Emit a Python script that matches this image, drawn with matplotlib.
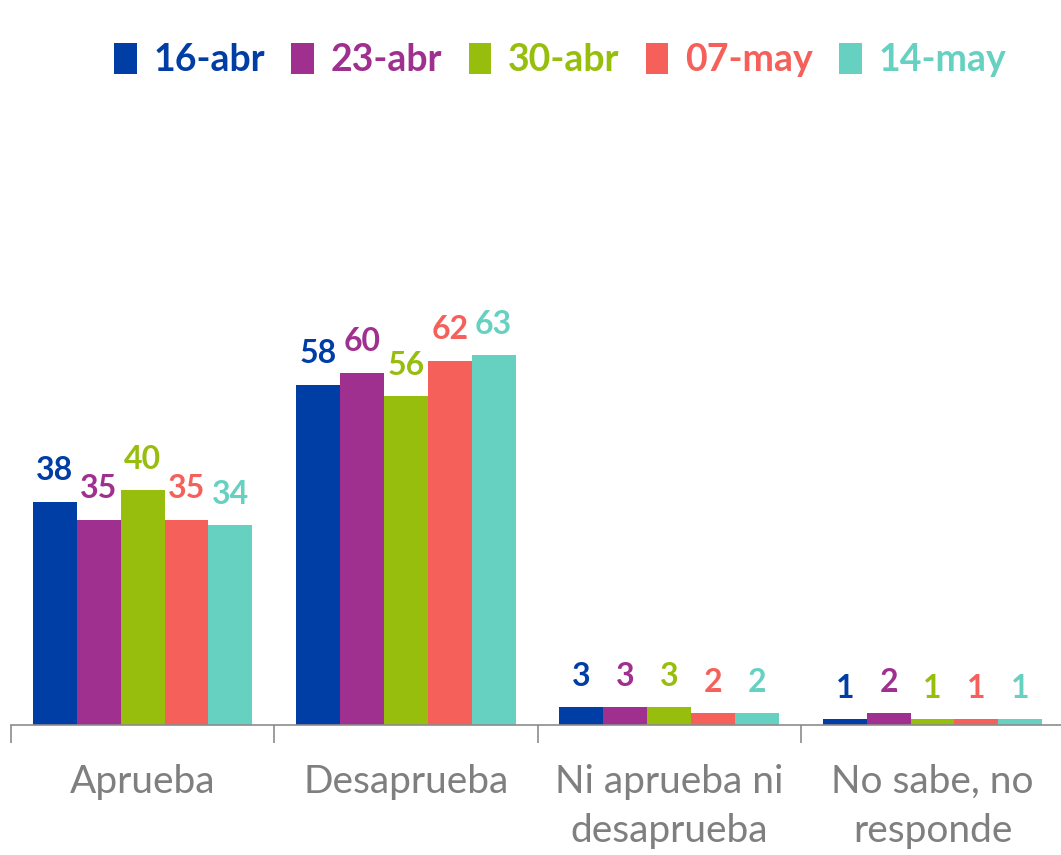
import matplotlib
matplotlib.use('Agg')

import numpy as np
import matplotlib.pyplot as plt
from matplotlib.patches import Patch

# categories and series
categories = ['Aprueba', 'Desaprueba', 'Ni aprueba ni\ndesaprueba', 'No sabe, no\nresponde']
dates = ['16-abr', '23-abr', '30-abr', '07-may', '14-may']
values = {
    '16-abr': [38, 58, 3, 1],
    '23-abr': [35, 60, 3, 2],
    '30-abr': [40, 56, 3, 1],
    '07-may': [35, 62, 2, 1],
    '14-may': [34, 63, 2, 1],
}
colors = ['#003DA5', '#A0308F', '#97BE0D', '#F5605A', '#66D1C1']

plt.rcParams['font.family'] = ['Lato', 'DejaVu Sans']

fig = plt.figure(figsize=(10.61, 8.55), dpi=100)
ax = fig.add_axes([0.0104, 0.152, 0.9925, 0.6866])

x = np.arange(len(categories))
w = 1 / 6
for i, d in enumerate(dates):
    pos = x + (i - 2) * w
    bars = ax.bar(pos, values[d], width=w, color=colors[i], zorder=2)
    for b, v in zip(bars, values[d]):
        ax.annotate(str(v), (b.get_x() + b.get_width() / 2, b.get_height()),
                    xytext=(0, 12), textcoords='offset points',
                    ha='center', va='bottom', fontsize=23, fontweight='bold',
                    color=colors[i])

ax.set_xlim(-0.5, len(categories) - 0.5)
ax.set_ylim(0, 100)

for s in ['top', 'right', 'left']:
    ax.spines[s].set_visible(False)
ax.spines['bottom'].set_color('#8c8c8c')
ax.spines['bottom'].set_linewidth(1.2)
ax.set_yticks([])

# ticks between groups, labels at centres
ax.set_xticks(np.arange(-0.5, len(categories), 1.0))
ax.set_xticklabels([])
ax.tick_params(axis='x', length=13, width=1.2, color='#8c8c8c')
ax.set_xticks(x, minor=True)
ax.set_xticklabels(categories, minor=True, fontsize=28, color='#7f7f7f',
                   linespacing=1.45)
ax.tick_params(axis='x', which='minor', length=0, pad=28)

handles = [Patch(facecolor=c) for c in colors]
leg = fig.legend(handles, dates, loc='center', bbox_to_anchor=(0.528, 0.93),
                 ncol=5, frameon=False, handlelength=0.6, handleheight=0.9,
                 handletextpad=0.45, columnspacing=0.7,
                 prop={'size': 27, 'weight': 'bold'})
for t, c in zip(leg.get_texts(), colors):
    t.set_color(c)

fig.savefig('out.png', dpi=100)
